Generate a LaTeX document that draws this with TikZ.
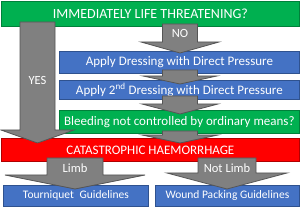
\documentclass[tikz,border=0pt]{standalone}
\usepackage{fontspec}
\setmainfont{Carlito}
\definecolor{ggreen}{HTML}{00B050}
\definecolor{ggreenb}{HTML}{00803A}
\definecolor{bblue}{HTML}{4472C4}
\definecolor{bblueb}{HTML}{2F528F}
\definecolor{rred}{HTML}{FF0000}
\definecolor{rredb}{HTML}{B00000}
\definecolor{agray}{HTML}{808080}
\definecolor{agrayb}{HTML}{555555}
\newcommand\blockarrow[6]{% xc, ytop, ybase, ytip, shafthalf, headhalf
  \fill[agray,draw=agrayb,line width=0.8pt]
    ({#1-#5},#2) -- ({#1+#5},#2) -- ({#1+#5},#3) -- ({#1+#6},#3) -- (#1,#4)
    -- ({#1-#6},#3) -- ({#1-#5},#3) -- cycle;}
\begin{document}
\begin{tikzpicture}[x=1pt,y=-1pt,
  box/.style={draw,line width=0.8pt,text=white,font=\fontsize{13}{15}\selectfont,anchor=north west,inner sep=0pt},
  gbox/.style={box,fill=ggreen,draw=ggreenb},
  bbox/.style={box,fill=bblue,draw=bblueb},
  rbox/.style={box,fill=rred,draw=rredb},
  sbox/.style={bbox,font=\fontsize{11.5}{13}\selectfont},
  alabel/.style={text=white,font=\fontsize{12.5}{14}\selectfont}]
\useasboundingbox (0,0) rectangle (300,211);
\node[gbox,minimum width=298pt,minimum height=25pt,font=\fontsize{14}{16}\selectfont] (top) at (1,1) {IMMEDIATELY LIFE THREATENING?};
\node[bbox,minimum width=240pt,minimum height=22pt] (b1) at (59,51) {Apply Dressing with Direct Pressure};
\node[bbox,minimum width=240pt,minimum height=19pt] (b2) at (59,80) {Apply 2\textsuperscript{nd} Dressing with Direct Pressure};
\node[gbox,minimum width=240pt,minimum height=23pt] (g2) at (59,110) {Bleeding not controlled by ordinary means?};
\node[rbox,minimum width=298pt,minimum height=23pt] (red) at (1,138) {CATASTROPHIC HAEMORRHAGE};
\node[sbox,minimum width=145pt,minimum height=21pt] (tq) at (3,185) {Tourniquet\enspace Guidelines};
\node[sbox,minimum width=144pt,minimum height=21pt] (wp) at (155,185) {Wound Packing Guidelines};
% block arrows
\blockarrow{37.5}{22}{130}{143}{17.5}{36.5}
\blockarrow{180}{24}{42}{53}{17.5}{39}
\blockarrow{180}{70}{76}{84}{17.5}{37}
\blockarrow{180}{96}{104}{114}{17.5}{38}
\blockarrow{180}{131}{135}{143}{17.5}{38}
\blockarrow{75}{158}{175}{189}{28}{70}
\blockarrow{227}{158}{173}{189}{29}{60}
\node[alabel] (no) at (180,33) {NO};
\node[alabel] (yes) at (37.5,80) {YES};
\node[alabel] (limb) at (75,168) {Limb};
\node[alabel] (nlimb) at (227,168) {Not Limb};
\end{tikzpicture}
\end{document}
